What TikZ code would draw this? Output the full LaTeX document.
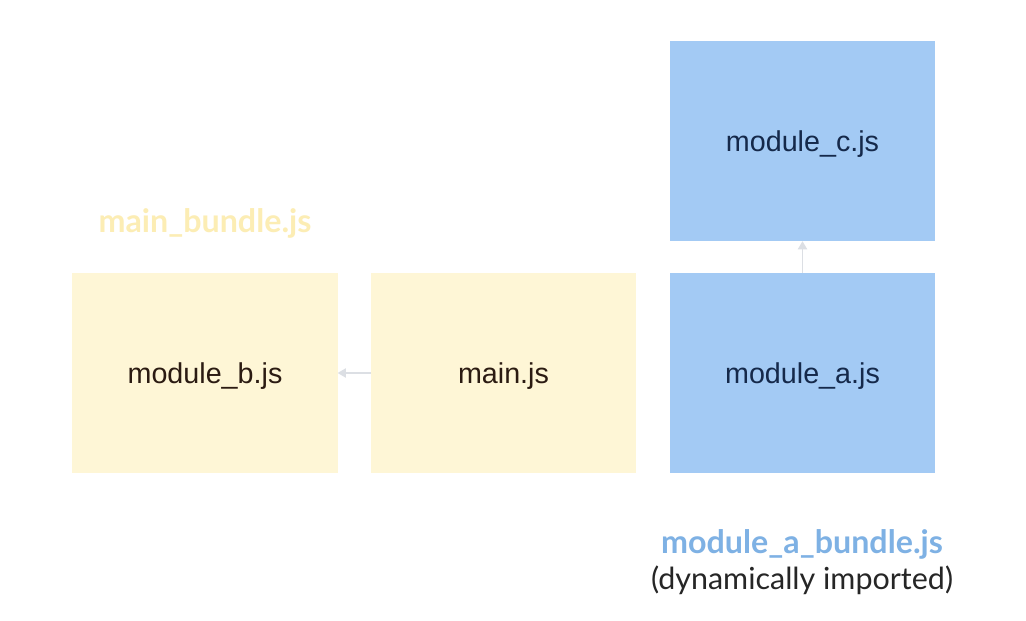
\documentclass[tikz,border=0pt]{standalone}
\usepackage{fontspec}
\setmainfont{Liberation Sans}
\newfontfamily\labelfont{Lato}
\usetikzlibrary{arrows.meta}
\definecolor{yellowfill}{HTML}{FEF6D6}
\definecolor{bluefill}{HTML}{A3CAF4}
\definecolor{yellowlabel}{HTML}{FCEDB4}
\definecolor{bluelabel}{HTML}{7EB1E4}
\definecolor{yellowtext}{HTML}{2B1B12}
\definecolor{bluetext}{HTML}{15294A}
\definecolor{arrowgrey}{HTML}{DCDFE4}
\begin{document}
\begin{tikzpicture}[x=0.03cm,y=-0.03cm,
    modbox/.style={minimum width=7.95cm,minimum height=6cm,inner sep=0pt,text height=22.5pt,text depth=5pt,font=\fontsize{24.5}{28}\selectfont},
    yellowmod/.style={modbox,fill=yellowfill,text=yellowtext},
    bluemod/.style={modbox,fill=bluefill,text=bluetext},
    bundlelabel/.style={font=\labelfont\bfseries\fontsize{27.5}{32}\selectfont},
    importarrow/.style={draw=arrowgrey,line width=1pt,-{Triangle[length=7pt,width=8pt]}}]
  \useasboundingbox[fill=white] (0,0) rectangle (1026,621);
  % main bundle
  \node[yellowmod] (modb) at (205,373) {module\_b.js};
  \node[yellowmod] (main) at (503.5,373) {main.js};
  \node[bundlelabel,text=yellowlabel] (mainbundle) at (205,223) {main\_bundle.js};
  % dynamically imported bundle
  \node[bluemod] (moda) at (802.5,373) {module\_a.js};
  \node[bluemod] (modc) at (802.5,141) {module\_c.js};
  \node[bundlelabel,text=bluelabel] (abundle) at (802,544) {module\_a\_bundle.js};
  \node[font=\labelfont\fontsize{26}{30}\selectfont,text=black!85] (dyn) at (802,580) {(dynamically imported)};
  % imports
  \draw[importarrow] (main.west) -- (modb.east);
  \draw[importarrow] (moda.north) -- (modc.south);
\end{tikzpicture}
\end{document}
